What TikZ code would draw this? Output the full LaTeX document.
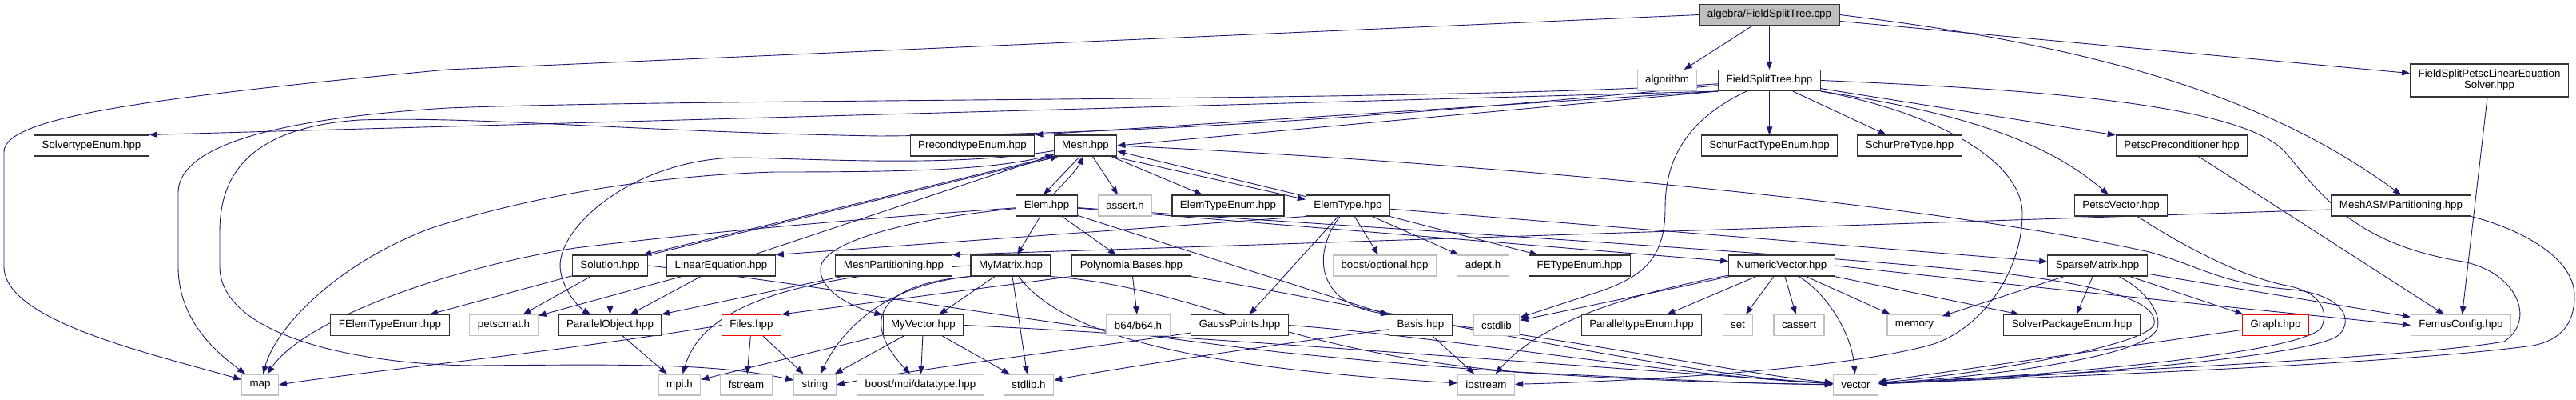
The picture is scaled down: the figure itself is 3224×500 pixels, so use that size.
\documentclass[tikz,border=0pt]{standalone}
\usepackage{fontspec}
\setmainfont{Liberation Sans}
\usetikzlibrary{arrows.meta}
\definecolor{edgeblue}{HTML}{191970}
\definecolor{boxgray}{HTML}{BFBFBF}
\pgfdeclarelayer{background}
\pgfsetlayers{background,main}
\begin{document}
\begin{tikzpicture}[x=1pt,y=-1pt,font=\fontsize{13.33}{14}\selectfont,
box/.style={draw=black!80,fill=white,line width=1.1pt,inner xsep=10pt,inner ysep=0pt,minimum height=26pt},
sysbox/.style={box,draw=boxgray},
truncbox/.style={box,draw=red},
rootbox/.style={box,fill=boxgray},
dep/.style={draw=edgeblue,line width=.9pt,-{Triangle[length=10pt,width=7.5pt]}}]
\useasboundingbox (0,0) rectangle (3224,500);
\node[rootbox] (cpp) at (2214.5,18.5) {algebra/FieldSplitTree.cpp};
\node[sysbox] (algorithm) at (2086.5,100.5) {algorithm};
\node[box] (fst) at (2214.5,100.5) {FieldSplitTree.hpp};
\node[box,align=center,minimum height=41pt] (fsples) at (3115.5,100.5) {FieldSplitPetscLinearEquation\\Solver.hpp};
\node[box] (solvertype) at (114.5,182) {SolvertypeEnum.hpp};
\node[box] (precond) at (1217,182) {PrecondtypeEnum.hpp};
\node[box] (mesh) at (1358.5,182) {Mesh.hpp};
\node[box] (schurfact) at (2214.5,182) {SchurFactTypeEnum.hpp};
\node[box] (schurpre) at (2390,182) {SchurPreType.hpp};
\node[box] (petscprec) at (2730.5,182) {PetscPreconditioner.hpp};
\node[box] (elem) at (1310,257) {Elem.hpp};
\node[sysbox] (assert) at (1408,257) {assert.h};
\node[box] (elemtypeenum) at (1537,257) {ElemTypeEnum.hpp};
\node[box] (elemtype) at (1687,257) {ElemType.hpp};
\node[box] (petscvec) at (2654.5,257) {PetscVector.hpp};
\node[box] (meshasm) at (3005,257) {MeshASMPartitioning.hpp};
\node[box] (solution) at (763.5,332) {Solution.hpp};
\node[box] (lineq) at (902.5,332) {LinearEquation.hpp};
\node[box] (meshpart) at (1118.5,332) {MeshPartitioning.hpp};
\node[box] (mymatrix) at (1265,332) {MyMatrix.hpp};
\node[box] (polybases) at (1416,332) {PolynomialBases.hpp};
\node[sysbox] (boostopt) at (1733,332) {boost/optional.hpp};
\node[sysbox] (adept) at (1856,332) {adept.h};
\node[box] (fetype) at (1977,332) {FETypeEnum.hpp};
\node[box] (numvec) at (2230,332) {NumericVector.hpp};
\node[box] (sparsemat) at (2625,332) {SparseMatrix.hpp};
\node[box] (felemtype) at (488,406.5) {FElemTypeEnum.hpp};
\node[sysbox] (petscmat) at (630.5,406.5) {petscmat.h};
\node[box] (parobj) at (763.5,406.5) {ParallelObject.hpp};
\node[truncbox] (files) at (940.5,406.5) {Files.hpp};
\node[box] (myvector) at (1155.5,406.5) {MyVector.hpp};
\node[sysbox] (b64) at (1424.5,406.5) {b64/b64.h};
\node[box] (gauss) at (1551.5,406.5) {GaussPoints.hpp};
\node[box] (basis) at (1778,406.5) {Basis.hpp};
\node[sysbox] (cstdlib) at (1873,406.5) {cstdlib};
\node[box] (paratype) at (2054.5,406.5) {ParalleltypeEnum.hpp};
\node[sysbox] (set) at (2175,406.5) {set};
\node[sysbox] (cassert) at (2251.5,406.5) {cassert};
\node[sysbox] (memory) at (2396,406.5) {memory};
\node[box] (solverpkg) at (2593,406.5) {SolverPackageEnum.hpp};
\node[truncbox] (graph) at (2848,406.5) {Graph.hpp};
\node[sysbox] (femus) at (3080,406.5) {FemusConfig.hpp};
\node[sysbox] (map) at (325.5,481) {map};
\node[sysbox] (mpih) at (850.5,481) {mpi.h};
\node[sysbox] (fstream) at (934,481) {fstream};
\node[sysbox] (string) at (1020,481) {string};
\node[sysbox] (mpidt) at (1152,481) {boost/mpi/datatype.hpp};
\node[sysbox] (stdlib) at (1287.5,481) {stdlib.h};
\node[sysbox] (iostream) at (1860,481) {iostream};
\node[sysbox] (vector) at (2322.5,481) {vector};
\begin{pgfonlayer}{background}
\draw[dep] (cpp) -- (algorithm);
\draw[dep] (cpp) -- (fst);
\draw[dep] (cpp) -- (fsples);
\draw[dep] (cpp.east) .. controls (2650,60) and (2850,130) .. (meshasm.north);
\draw[dep] (cpp.west) -- (560,87) .. controls (150,125) and (5,150) .. (5,190) -- (5,333) .. controls (5,400) and (180,440) .. (map);
\draw[dep] (fst.south west) -- (solvertype.north east);
\draw[dep] (fst.south west) -- (precond.north east);
\draw[dep] (fst.south west) -- (mesh.east);
\draw[dep] (fst) -- (schurfact);
\draw[dep] (fst) -- (schurpre);
\draw[dep] (fst) -- (petscprec);
\draw[dep] (fst.south east) .. controls (2450,140) and (2560,175) .. (petscvec);
\draw[dep] (fst) .. controls (1800,128) and (900,122) .. (560,135) .. controls (400,145) and (225,170) .. (223,240) -- (223,333) .. controls (223,400) and (270,440) .. (map);
\draw[dep] (fst) .. controls (1700,150) and (1400,168) .. (1100,170) .. controls (800,165) and (600,145) .. (450,150) .. controls (300,160) and (275,230) .. (275,290) -- (275,333) .. controls (275,420) and (450,457) .. (600,457) .. controls (800,455) and (900,455) .. (string);
\draw[dep] (fst.east) .. controls (2500,110) and (2800,125) .. (2860,190) .. controls (2910,250) and (2950,305) .. (3082,327) .. controls (3150,340) and (3175,400) .. (3134,427) .. controls (3000,450) and (2500,470) .. (vector);
\draw[dep] (fst) .. controls (2110,150) and (2084,200) .. (2084,260) .. controls (2084,320) and (2060,345) .. (2000,365) -- (cstdlib);
\draw[dep] (fst.south east) .. controls (2420,140) and (2531,200) .. (2531,267) .. controls (2531,340) and (2480,410) .. (2420,430) .. controls (2300,465) and (2000,478) .. (iostream);
\draw[dep] (fsples) -- (femus);
\draw[dep] ([yshift=-5pt]meshasm.west) -- (meshpart.north east);
\draw[dep] (meshasm.south east) .. controls (3150,285) and (3222,320) .. (3222,370) .. controls (3222,405) and (3205,425) .. (3170,432) .. controls (3000,455) and (2600,470) .. (vector);
\draw[dep] (petscprec) -- (femus);
\draw[dep] (petscvec) .. controls (2720,300) and (2800,345) .. (2862,357) .. controls (2905,365) and (2915,390) .. (2905,410) .. controls (2880,440) and (2600,468) .. (vector);
\draw[dep] (mesh.east) .. controls (1800,200) and (2400,250) .. (2690,315) .. controls (2760,335) and (2780,355) .. (2870,362) .. controls (2935,370) and (2945,400) .. (2928,418) .. controls (2900,445) and (2600,470) .. (vector);
\draw[dep] (graph) -- (vector);
\draw[dep] (numvec) -- (set);
\draw[dep] (numvec) -- (cassert);
\draw[dep] (numvec) -- (memory);
\draw[dep] (numvec) -- (solverpkg);
\draw[dep] (numvec) -- (paratype);
\draw[dep] (numvec) -- (cstdlib);
\draw[dep] (numvec) .. controls (2290,370) and (2318,420) .. (vector);
\draw[dep] (numvec) .. controls (2050,365) and (1930,400) .. (iostream);
\draw[dep] (numvec.east) .. controls (2600,365) and (2900,395) .. (femus.west);
\draw[dep] (sparsemat) -- (memory);
\draw[dep] (sparsemat) -- (solverpkg);
\draw[dep] (sparsemat) -- (graph);
\draw[dep] (sparsemat) -- (femus);
\draw[dep] (sparsemat) .. controls (2690,365) and (2705,395) .. (2700,410) .. controls (2690,445) and (2500,470) .. (vector);
\draw[dep] ([xshift=-7pt]mesh.south) -- ([xshift=-4pt]elem.north);
\draw[dep] ([xshift=8pt]elem.north) .. controls (1335,225) and (1348,212) .. ([xshift=-3pt]mesh.south);
\draw[dep] (mesh) -- (assert);
\draw[dep] (mesh) -- (elemtypeenum);
\draw[dep] ([xshift=-6pt]mesh.south east) -- ([yshift=-6pt]elemtype.north west);
\draw[dep] ([yshift=-2pt]elemtype.north west) -- ([yshift=-7pt]mesh.east);
\draw[dep] (mesh.south west) -- ([xshift=-6pt]solution.north east);
\draw[dep] ([xshift=2pt]solution.north east) -- ([xshift=6pt]mesh.south west);
\draw[dep] ([xshift=-28pt]lineq.north east) -- ([yshift=2pt]mesh.south west);
\draw[dep] (elemtype.south west) -- (lineq.north east);
\draw[dep] (mesh) .. controls (1250,212) and (1150,215) .. (970,215) .. controls (800,220) and (650,250) .. (540,285) .. controls (420,330) and (345,410) .. (map);
\draw[dep] (mesh) .. controls (1200,208) and (1050,200) .. (933,197) .. controls (800,195) and (700,280) .. (701,333) .. controls (702,360) and (725,385) .. (parobj);
\draw[dep] (elem) .. controls (1100,272) and (900,288) .. (720,310) .. controls (560,335) and (380,400) .. (map);
\draw[dep] (elem) -- (mymatrix);
\draw[dep] (elem) -- (polybases);
\draw[dep] (elem) -- (basis);
\draw[dep] (elem) -- (numvec);
\draw[dep] (elem) .. controls (1150,272) and (1030,300) .. (1027,335) .. controls (1025,365) and (1070,385) .. (myvector);
\draw[dep] (elem) .. controls (1800,290) and (2300,320) .. (2517,343) .. controls (2650,360) and (2700,380) .. (2696,405) .. controls (2690,430) and (2500,465) .. (vector);
\draw[dep] (elemtype) -- (boostopt);
\draw[dep] (elemtype) -- (adept);
\draw[dep] (elemtype) -- (fetype);
\draw[dep] (elemtype) .. controls (1640,320) and (1650,380) .. (basis.north west);
\draw[dep] (elemtype) -- (gauss);
\draw[dep] (elemtype) -- (sparsemat);
\draw[dep] (solution) -- (petscmat);
\draw[dep] (solution) -- (parobj);
\draw[dep] (solution) -- (felemtype);
\draw[dep] (solution.east) .. controls (1000,352) and (1300,405) .. (1600,440) .. controls (1900,470) and (2100,478) .. (vector);
\draw[dep] (lineq) -- (petscmat);
\draw[dep] (lineq) -- (parobj);
\draw[dep] (meshpart) -- (parobj);
\draw[dep] (parobj) -- (mpih);
\draw[dep] (files.west) .. controls (700,440) and (450,465) .. (map.east);
\draw[dep] (files) -- (fstream);
\draw[dep] (files) -- (string);
\draw[dep] (mymatrix) -- (myvector);
\draw[dep] (mymatrix) -- (stdlib);
\draw[dep] (mymatrix.south west) .. controls (1120,355) and (1060,400) .. (string);
\draw[dep] (mymatrix.south west) .. controls (1100,355) and (1075,400) .. (mpidt);
\draw[dep] (mymatrix.west) .. controls (1000,345) and (880,380) .. (mpih);
\draw[dep] (mymatrix) .. controls (1330,420) and (1500,460) .. (iostream);
\draw[dep] (mymatrix.south east) .. controls (1500,360) and (1600,440) .. (1900,465) .. controls (2100,475) and (2200,480) .. (vector);
\draw[dep] (myvector) -- (mpidt);
\draw[dep] (myvector) -- (stdlib);
\draw[dep] (myvector) -- (mpih);
\draw[dep] (myvector) -- (string);
\draw[dep] (myvector.east) .. controls (1500,420) and (2000,460) .. (vector);
\draw[dep] (polybases) -- (b64);
\draw[dep] (polybases.south west) -- (files.north east);
\draw[dep] (polybases.south east) .. controls (1700,380) and (2100,470) .. (vector);
\draw[dep] (gauss) .. controls (1400,430) and (1150,460) .. (string.east);
\draw[dep] (gauss.east) .. controls (1800,420) and (2100,470) .. (vector);
\draw[dep] (basis) .. controls (1600,430) and (1400,460) .. (stdlib);
\draw[dep] (basis) -- (iostream);
\draw[dep] (basis.east) .. controls (2000,430) and (2200,470) .. (vector);
\end{pgfonlayer}
\end{tikzpicture}
\end{document}
